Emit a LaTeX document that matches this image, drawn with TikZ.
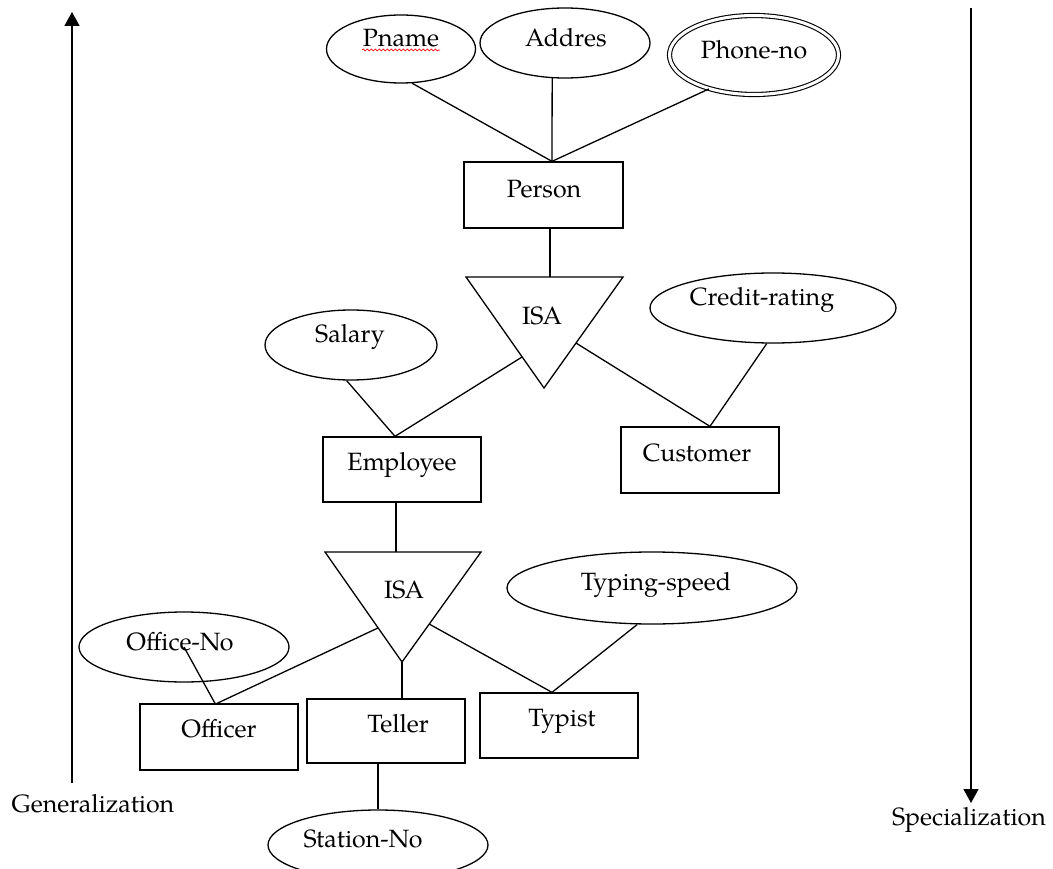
\documentclass[tikz,border=0pt]{standalone}
\usepackage{fontspec}
\setmainfont{TeX Gyre Pagella}
\usetikzlibrary{arrows.meta,shapes.geometric,decorations.pathmorphing,calc}

\begin{document}
\begin{tikzpicture}[x=1pt,y=-1pt,
  conn/.style={line width=1.3pt},
  attr/.style={ellipse, draw, line width=1.3pt, inner sep=0pt},
  entity/.style={rectangle, draw, line width=1.3pt, inner sep=0pt},
  isabox/.style={draw, line width=1.3pt, line join=miter},
  lbl/.style={font=\fontsize{25}{30}\selectfont, inner sep=0pt,
              text height=0.69em, text depth=0.23em, yshift=-4pt},
  dirarrow/.style={line width=1.5pt, -{Triangle[width=15pt,length=14pt]}}]

\useasboundingbox (0,0) rectangle (1053,869);

% ---- attributes of Person ----
\node[attr, minimum width=149, minimum height=68] (pname) at (401,49) {};
\node[lbl] (pname-t) at (401,40) {Pname};
\draw[red, line width=0.7pt, decorate,
      decoration={snake, amplitude=1pt, segment length=4pt}]
      (362,50) -- (440,50);
\node[attr, minimum width=170, minimum height=70] (addres) at (565,43) {};
\node[lbl] (addres-t) at (566,40) {Addres};
\node[attr, double, double distance=3pt, line width=1.1pt,
      minimum width=169, minimum height=79] (phone) at (754,55) {};
\node[lbl] (phone-t) at (754,52) {Phone-no};

% ---- Person ----
\node[entity, minimum width=159, minimum height=66] (person) at (543.5,195) {};
\node[lbl] (person-t) at (544,191) {Person};
\coordinate (person-top) at ([xshift=8.5pt]person.north);

\draw[conn] (pname.-72)   -- (person-top);
\draw[conn] (addres.-110) -- (person-top);
\draw[conn] (phone.-143)  -- (person-top);

% ---- first ISA ----
\coordinate (isa1-a) at (466,277);
\coordinate (isa1-b) at (623,277);
\coordinate (isa1-c) at (544,388);
\draw[isabox] (isa1-a) -- (isa1-b) -- (isa1-c) -- cycle;
\node[lbl] (isa1-t) at (542,318) {ISA};
\coordinate (isa1-top) at (550,277);
\coordinate (isa1-l) at ($(isa1-a)!0.72!(isa1-c)$);
\coordinate (isa1-r) at ($(isa1-b)!0.595!(isa1-c)$);
\draw[conn] ([xshift=6.5pt]person.south) -- (isa1-top);

% ---- Employee / Customer ----
\node[attr, minimum width=172, minimum height=70] (salary) at (351,345) {};
\node[lbl] (salary-t) at (350,336) {Salary};
\node[attr, minimum width=246, minimum height=70] (credit) at (773,308) {};
\node[lbl] (credit-t) at (762,299) {Credit-rating};

\node[entity, minimum width=158, minimum height=65] (employee) at (402,469.5) {};
\node[lbl] (employee-t) at (402,464) {Employee};
\node[entity, minimum width=158, minimum height=66] (customer) at (700,460) {};
\node[lbl] (customer-t) at (697,455) {Customer};

\draw[conn] (salary.-97)  -- ([xshift=-7pt]employee.north);
\draw[conn] (isa1-l)      -- ([xshift=-7pt]employee.north);
\draw[conn] (isa1-r)      -- ([xshift=10pt]customer.north);
\draw[conn] (credit.-100) -- ([xshift=10pt]customer.north);

% ---- second ISA ----
\coordinate (isa2-a) at (325,552);
\coordinate (isa2-b) at (481,552);
\coordinate (isa2-c) at (402,662);
\draw[isabox] (isa2-a) -- (isa2-b) -- (isa2-c) -- cycle;
\node[lbl] (isa2-t) at (404,592) {ISA};
\coordinate (isa2-top) at (396,552);
\coordinate (isa2-l) at ($(isa2-a)!0.69!(isa2-c)$);
\coordinate (isa2-r) at ($(isa2-b)!0.655!(isa2-c)$);
\draw[conn] ([xshift=-6pt]employee.south) -- (isa2-top);

% ---- Officer / Teller / Typist ----
\node[attr, minimum width=210, minimum height=70] (office) at (184,647) {};
\node[lbl] (office-t) at (180,644) {Office-No};
\node[attr, minimum width=290, minimum height=72] (typing) at (652,588) {};
\node[lbl] (typing-t) at (656,584) {Typing-speed};

\node[entity, minimum width=158, minimum height=66] (officer) at (219,737) {};
\node[lbl] (officer-t) at (219,731) {Officer};
\node[entity, minimum width=158, minimum height=64] (teller) at (386,731) {};
\node[lbl] (teller-t) at (398,726) {Teller};
\node[entity, minimum width=158, minimum height=65] (typist) at (559,725.5) {};
\node[lbl] (typist-t) at (562,720) {Typist};

\draw[conn] (isa2-l) -- ([xshift=-2pt]officer.north);
\draw[conn] (office.center) -- ([xshift=-4pt]officer.north);
\draw[conn] (isa2-c) -- ([xshift=16pt]teller.north);
\draw[conn] (isa2-r) -- ([xshift=-7pt]typist.north);
\draw[conn] (typing.-112) -- ([xshift=-7pt]typist.north);

\node[attr, minimum width=220, minimum height=70] (station) at (378,845) {};
\node[lbl] (station-t) at (363,841) {Station-No};
\draw[conn] ([xshift=-8pt]teller.south) -- (station.north);

% ---- direction arrows ----
\coordinate (gen-from) at (72,783);
\coordinate (gen-to) at (72,12);
\draw[dirarrow] (gen-from) -- (gen-to);
\node[lbl] (gen) at (93,806) {Generalization};

\coordinate (spec-from) at (971,8);
\coordinate (spec-to) at (971,803);
\draw[dirarrow] (spec-from) -- (spec-to);
\node[lbl] (spec) at (969,819) {Specialization};

\end{tikzpicture}
\end{document}
